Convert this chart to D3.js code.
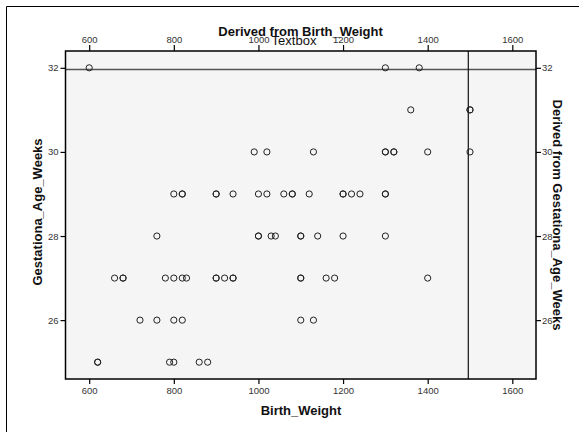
<!DOCTYPE html>
<html>
<head>
<meta charset="utf-8">
<script src="https://cdn.jsdelivr.net/npm/d3@7"></script>
<style>
  html, body { margin: 0; padding: 0; background: #fff; }
  svg { display: block; font-family: "Liberation Sans", Arial, sans-serif; }
  .tick text { fill: #333; font-size: 9.5px; }
  .tick line { stroke: #000; }
</style>
</head>
<body>
<svg id="chart" width="579" height="432"></svg>
<script>
// Data: Birth_Weight (x) and Gestationa_Age_Weeks (y)
const birthWeight = [
  600, 1300, 1380,
  1360, 1500, 1500,
  990, 1020, 1130, 1300, 1300, 1320, 1320, 1400, 1500,
  800, 820, 820, 900, 900, 940, 1000, 1020, 1060, 1080, 1080, 1120, 1200, 1200, 1220, 1240, 1300, 1300,
  760, 1000, 1000, 1030, 1040, 1100, 1100, 1140, 1200, 1300,
  660, 680, 680, 780, 800, 820, 830, 900, 900, 920, 940, 940, 1100, 1100, 1160, 1180, 1400,
  720, 760, 800, 820, 1100, 1130,
  620, 620, 790, 800, 860, 880
];
const gestWeeks = [
  32, 32, 32,
  31, 31, 31,
  30, 30, 30, 30, 30, 30, 30, 30, 30,
  29, 29, 29, 29, 29, 29, 29, 29, 29, 29, 29, 29, 29, 29, 29, 29, 29, 29,
  28, 28, 28, 28, 28, 28, 28, 28, 28, 28,
  27, 27, 27, 27, 27, 27, 27, 27, 27, 27, 27, 27, 27, 27, 27, 27, 27,
  26, 26, 26, 26, 26, 26,
  25, 25, 25, 25, 25, 25
];
const xTicks = [600, 800, 1000, 1200, 1400, 1600];
const yTicks = [26, 28, 30, 32];
const refX = [1496];
const refY = [31.96];

const svg = d3.select("#chart");
const L = 65.5, R = 536, T = 51, B = 379;

const x = d3.scaleLinear().domain([544, 1656]).range([L, R]);
const y = d3.scaleLinear().domain([24.6, 32.4]).range([B, T]);

// outer frame (top and left edges)
svg.append("line").attr("x1", 6.5).attr("y1", 6.5).attr("x2", 579).attr("y2", 6.5)
  .attr("stroke", "#000").attr("stroke-width", 1);
svg.append("line").attr("x1", 6.5).attr("y1", 6.5).attr("x2", 6.5).attr("y2", 432)
  .attr("stroke", "#000").attr("stroke-width", 1);

// plot background
svg.append("rect").attr("x", L).attr("y", T).attr("width", R - L).attr("height", B - T)
  .attr("fill", "#f5f5f5");

// reference lines
svg.selectAll(".refy").data(refY).enter().append("line")
  .attr("x1", L).attr("x2", R).attr("y1", d => y(d)).attr("y2", d => y(d))
  .attr("stroke", "#555").attr("stroke-width", 1.5);
svg.selectAll(".refx").data(refX).enter().append("line")
  .attr("x1", d => x(d)).attr("x2", d => x(d)).attr("y1", T).attr("y2", B)
  .attr("stroke", "#111").attr("stroke-width", 1.2);

// points
const pts = birthWeight.map((w, i) => ({ w, g: gestWeeks[i] }));
svg.append("g").selectAll("circle").data(pts).enter().append("circle")
  .attr("cx", d => x(d.w)).attr("cy", d => y(d.g)).attr("r", 3.1)
  .attr("fill", "none").attr("stroke", "#222").attr("stroke-width", 1);

// axes
const axB = d3.axisBottom(x).tickValues(xTicks).tickSize(5).tickPadding(3).tickFormat(d3.format("d"));
const axT = d3.axisTop(x).tickValues(xTicks).tickSize(6).tickPadding(2).tickFormat(d3.format("d"));
const axL = d3.axisLeft(y).tickValues(yTicks).tickSize(5).tickPadding(2).tickFormat(d3.format("d"));
const axR = d3.axisRight(y).tickValues(yTicks).tickSize(5).tickPadding(1).tickFormat(d3.format("d"));

function styleAxis(g) {
  g.select(".domain").remove();
  g.selectAll(".tick line").attr("stroke", "#000").attr("stroke-width", 1.2);
  g.selectAll(".tick text").attr("font-family", "Liberation Sans, Arial, sans-serif");
}
svg.append("g").attr("transform", `translate(0,${B})`).call(axB).call(styleAxis);
svg.append("g").attr("transform", `translate(0,${T})`).call(axT).call(styleAxis);
svg.append("g").attr("transform", `translate(${L},0)`).call(axL).call(styleAxis);
svg.append("g").attr("transform", `translate(${R},0)`).call(axR).call(styleAxis);

// plot frame
svg.append("rect").attr("x", L).attr("y", T).attr("width", R - L).attr("height", B - T)
  .attr("fill", "none").attr("stroke", "#000").attr("stroke-width", 1.5);

// titles
svg.append("text").attr("x", 301).attr("y", 415).attr("text-anchor", "middle")
  .attr("font-size", 13).attr("font-weight", "bold").attr("fill", "#111").text("Birth_Weight");
svg.append("text").attr("x", 300.5).attr("y", 35.5).attr("text-anchor", "middle")
  .attr("font-size", 13).attr("font-weight", "bold").attr("fill", "#111").text("Derived from Birth_Weight");
svg.append("text").attr("x", 294).attr("y", 45).attr("text-anchor", "middle")
  .attr("font-size", 13).attr("fill", "#111").text("Textbox");
svg.append("text").attr("transform", "translate(42,212) rotate(-90)").attr("text-anchor", "middle")
  .attr("font-size", 13).attr("font-weight", "bold").attr("fill", "#111").text("Gestationa_Age_Weeks");
svg.append("text").attr("transform", "translate(553,215) rotate(90)").attr("text-anchor", "middle")
  .attr("font-size", 13).attr("font-weight", "bold").attr("fill", "#111").text("Derived from Gestationa_Age_Weeks");
</script>
</body>
</html>
